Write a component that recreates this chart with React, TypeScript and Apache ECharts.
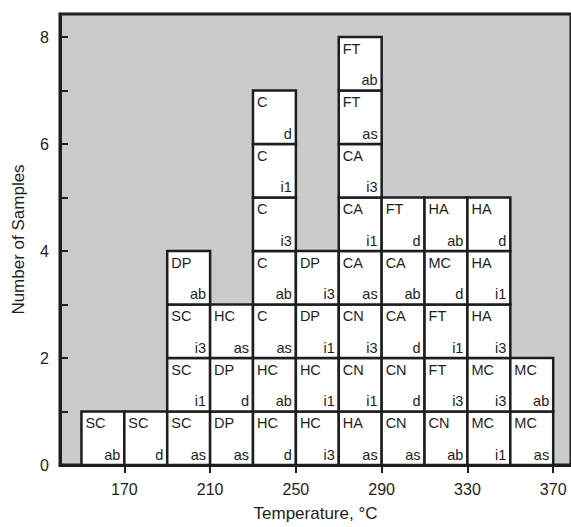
import React, { useEffect, useRef } from "react";
import * as echarts from "echarts";

// Lower edge of each 20 °C temperature bin
const binStarts = [150, 170, 190, 210, 230, 250, 270, 290, 310, 330, 350];

// Samples stacked in each bin, from bottom to top: "<material> <condition>"
const columns: string[][] = [
  ["SC ab"],
  ["SC d"],
  ["SC as", "SC i1", "SC i3", "DP ab"],
  ["DP as", "DP d", "HC as"],
  ["HC d", "HC ab", "C as", "C ab", "C i3", "C i1", "C d"],
  ["HC i3", "HC i1", "DP i1", "DP i3"],
  ["HA as", "CN i1", "CN i3", "CA as", "CA i1", "CA i3", "FT as", "FT ab"],
  ["CN as", "CN d", "CA d", "CA ab", "FT d"],
  ["CN ab", "FT i3", "FT i1", "MC d", "HA ab"],
  ["MC i1", "MC i3", "HA i3", "HA i1", "HA d"],
  ["MC as", "MC ab"],
];

const binWidth = 20;
const xTickLabels = [170, 210, 250, 290, 330, 370];
const yTickLabels = [0, 2, 4, 6, 8];
const yTicks = [0, 1, 2, 3, 4, 5, 6, 7, 8];

type Cell = { x: number; level: number; top: string; bottom: string };

const cells: Cell[] = [];
columns.forEach((stack, i) => {
  stack.forEach((entry, level) => {
    const [top, bottom] = entry.split(" ");
    cells.push({ x: binStarts[i], level, top, bottom });
  });
});

const FONT = "'Liberation Sans', Arial, sans-serif";
const INK = "#1e1e1e";

export default function App() {
  const ref = useRef<HTMLDivElement>(null);

  useEffect(() => {
    if (!ref.current) return;
    const chart = echarts.init(ref.current, null, { renderer: "svg" });
    chart.setOption({
      animation: false,
      backgroundColor: "#ffffff",
      grid: {
        left: 60,
        top: 14,
        right: -3,
        bottom: 58,
        show: true,
        backgroundColor: "#cbcbcb",
        borderColor: INK,
        borderWidth: 3,
      },
      xAxis: {
        type: "value",
        min: 140,
        max: 378.3,
        name: "Temperature, °C",
        nameLocation: "middle",
        nameGap: 40,
        nameTextStyle: { fontFamily: FONT, fontSize: 17, color: INK },
        axisLine: { show: true, lineStyle: { color: INK, width: 3 } },
        axisTick: {
          show: true,
          inside: false,
          length: 8,
          customValues: xTickLabels,
          lineStyle: { color: INK, width: 2 },
        },
        axisLabel: {
          customValues: xTickLabels,
          margin: 16,
          fontFamily: FONT,
          fontSize: 16,
          color: INK,
        },
        splitLine: { show: false },
      },
      yAxis: {
        type: "value",
        min: 0,
        max: 8.43,
        name: "Number of Samples",
        nameLocation: "middle",
        nameRotate: 90,
        nameGap: 33,
        nameTextStyle: { fontFamily: FONT, fontSize: 17, color: INK },
        axisLine: { show: true, lineStyle: { color: INK, width: 3 } },
        axisTick: {
          show: true,
          inside: true,
          length: 8,
          customValues: yTicks,
          lineStyle: { color: INK, width: 2 },
        },
        axisLabel: {
          customValues: yTickLabels,
          margin: 11,
          fontFamily: FONT,
          fontSize: 16,
          color: INK,
        },
        splitLine: { show: false },
      },
      series: [
        {
          type: "custom",
          data: cells.map((c) => [c.x, c.level]),
          encode: { x: 0, y: 1 },
          renderItem: (params: any, api: any) => {
            const cell = cells[params.dataIndex];
            const x0 = api.value(0);
            const lv = api.value(1);
            const tl = api.coord([x0, lv + 1]);
            const br = api.coord([x0 + binWidth, lv]);
            const w = br[0] - tl[0];
            const h = br[1] - tl[1];
            return {
              type: "group",
              children: [
                {
                  type: "rect",
                  shape: { x: tl[0], y: tl[1], width: w, height: h },
                  style: { fill: "#ffffff", stroke: INK, lineWidth: 2.5 },
                },
                {
                  type: "text",
                  x: tl[0] + 4,
                  y: tl[1] + 4,
                  style: {
                    text: cell.top,
                    fontFamily: FONT,
                    fontSize: 14.5,
                    fill: INK,
                    textAlign: "left",
                    textVerticalAlign: "top",
                  },
                },
                {
                  type: "text",
                  x: br[0] - 4,
                  y: br[1] - 3,
                  style: {
                    text: cell.bottom,
                    fontFamily: FONT,
                    fontSize: 14.5,
                    fill: INK,
                    textAlign: "right",
                    textVerticalAlign: "bottom",
                  },
                },
              ],
            };
          },
        },
      ],
    });
    return () => chart.dispose();
  }, []);

  return (
    <div
      ref={ref}
      style={{ position: "fixed", left: 0, top: 0, width: 571, height: 527 }}
    />
  );
}
